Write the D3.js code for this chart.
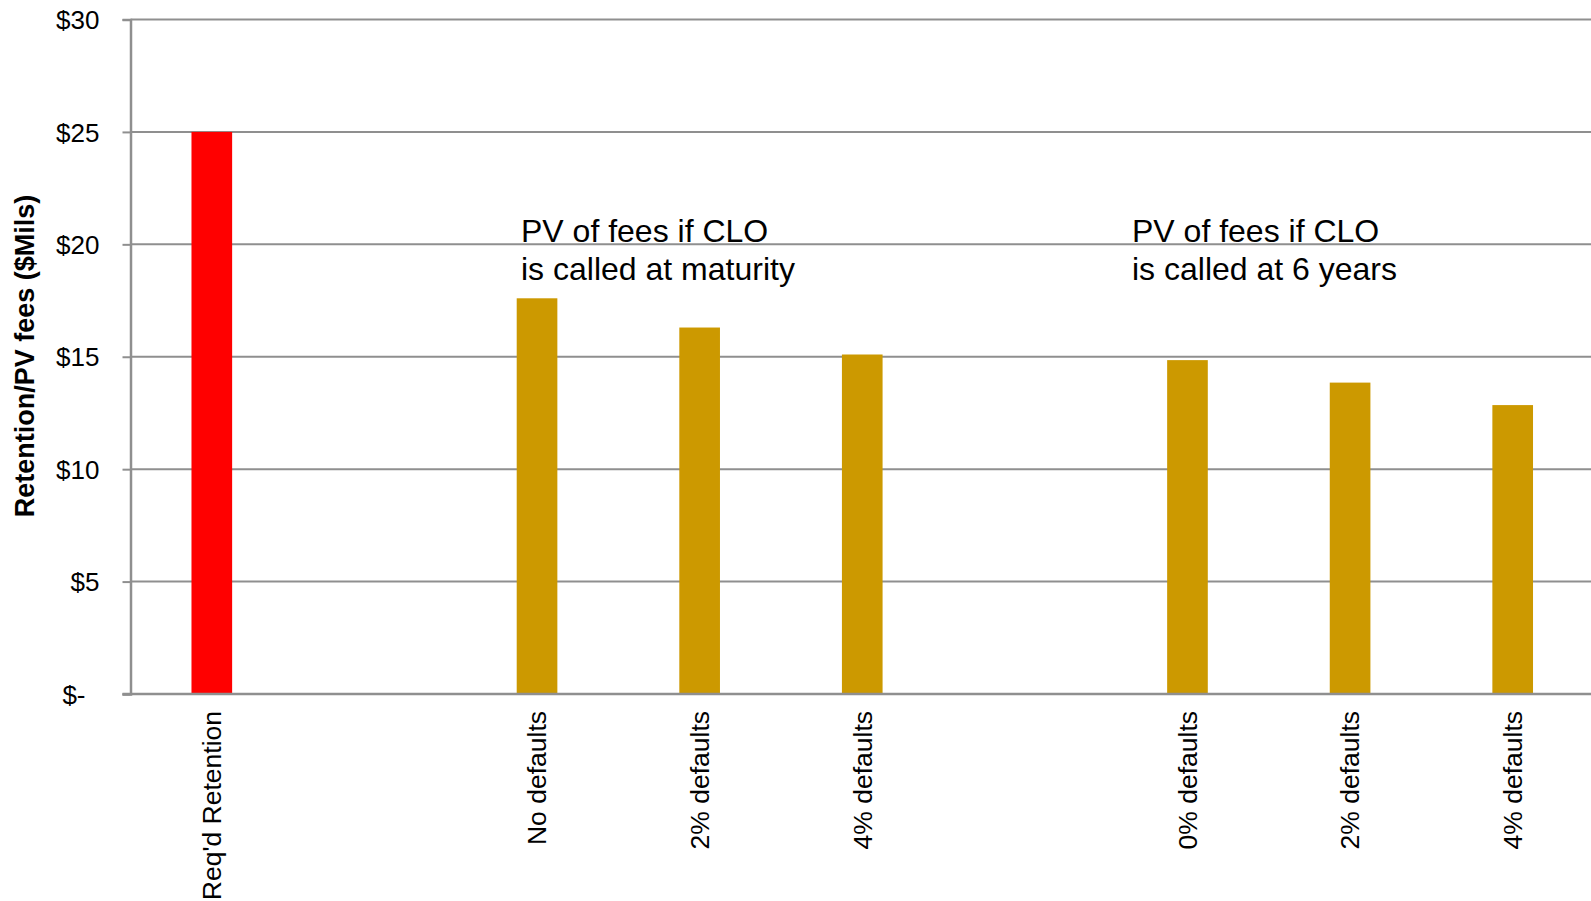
<!DOCTYPE html>
<html>
<head>
<meta charset="utf-8">
<script src="https://cdn.jsdelivr.net/npm/d3@7"></script>
<style>
  html, body { margin: 0; padding: 0; background: #fff; }
  svg { display: block; font-family: "Liberation Sans", Arial, sans-serif; }
</style>
</head>
<body>
<svg id="chart" width="1591" height="901"></svg>
<script>
// Category slots (empty strings are spacer slots between groups)
const categories = ["Req'd Retention", "", "No defaults", "2% defaults", "4% defaults", "", "0% defaults", "2% defaults", "4% defaults"];
// Retention / PV of fees, $ millions (null = no bar)
const values = [25, null, 17.6, 16.3, 15.1, null, 14.85, 13.85, 12.85];
// Y axis ticks and labels
const yTicks = [0, 5, 10, 15, 20, 25, 30];
const yTickLabels = ["$-", "$5", "$10", "$15", "$20", "$25", "$30"];
// Group notes
const groupNotes = [
  ["PV of fees if CLO", "is called at maturity"],
  ["PV of fees if CLO", "is called at 6 years"]
];

const svg = d3.select("#chart");
const W = 1591;
const axisX = 130.5, bandRight = 1594, yTop = 19.5, yBottom = 694;

const x = d3.scaleBand()
  .domain(d3.range(categories.length))
  .range([axisX, bandRight])
  .paddingInner(0.75)
  .paddingOuter(0.375);

const y = d3.scaleLinear().domain([0, 30]).range([yBottom, yTop]);

const gridColor = "#8f8f8f";

// Horizontal gridlines
svg.append("g")
  .selectAll("line")
  .data(yTicks)
  .join("line")
  .attr("x1", axisX)
  .attr("x2", W)
  .attr("y1", d => y(d))
  .attr("y2", d => y(d))
  .attr("stroke", gridColor)
  .attr("stroke-width", 2);

// Y axis
const yAxis = d3.axisLeft(y)
  .tickValues(yTicks)
  .tickSize(8)
  .tickPadding(23)
  .tickFormat((d, i) => yTickLabels[i]);

const gy = svg.append("g")
  .attr("transform", `translate(${axisX},0)`)
  .call(yAxis);
gy.select(".domain").attr("stroke", gridColor).attr("stroke-width", 2.5);
gy.selectAll(".tick line").attr("stroke", gridColor).attr("stroke-width", 2);
gy.selectAll(".tick text")
  .attr("fill", "#000")
  .style("font-size", "26px")
  .style("font-family", "'Liberation Sans', Arial, sans-serif")
  .attr("dy", "0.35em");
// accounting-style zero label sits further left
gy.selectAll(".tick").filter(d => d === 0).select("text").attr("dx", -14);

// Bars
svg.append("g")
  .selectAll("rect")
  .data(values.map((v, i) => ({ v, i })).filter(d => d.v != null))
  .join("rect")
  .attr("x", d => x(d.i))
  .attr("width", x.bandwidth())
  .attr("y", d => y(d.v))
  .attr("height", d => y(0) - y(d.v))
  .attr("fill", d => d.i === 0 ? "#ff0000" : "#cc9900");

// Redraw baseline over bars
svg.append("line")
  .attr("x1", axisX - 8).attr("x2", W)
  .attr("y1", y(0)).attr("y2", y(0))
  .attr("stroke", gridColor).attr("stroke-width", 2.5);

// Category labels (rotated)
svg.append("g")
  .selectAll("text")
  .data(categories.map((c, i) => ({ c, i })).filter(d => d.c !== ""))
  .join("text")
  .attr("transform", d => `translate(${x(d.i) + x.bandwidth() / 2},${yBottom + 17}) rotate(-90)`)
  .attr("text-anchor", "end")
  .attr("dy", "0.35em")
  .attr("fill", "#000")
  .style("font-size", "26.5px")
  .text(d => d.c);

// Group notes
const notePos = [[521, 241.5], [1132, 241.5]];
groupNotes.forEach((lines, k) => {
  const t = svg.append("text")
    .attr("x", notePos[k][0])
    .attr("y", notePos[k][1])
    .attr("fill", "#000")
    .style("font-size", "32px");
  lines.forEach((ln, j) => {
    t.append("tspan")
      .attr("x", notePos[k][0])
      .attr("y", notePos[k][1] + j * 38.5)
      .text(ln);
  });
});

// Y axis title
svg.append("text")
  .attr("transform", `translate(34,${(198 + 514) / 2}) rotate(-90)`)
  .attr("text-anchor", "middle")
  .attr("fill", "#000")
  .style("font-size", "27px")
  .style("font-weight", "bold")
  .text("Retention/PV fees ($Mils)");
</script>
</body>
</html>
